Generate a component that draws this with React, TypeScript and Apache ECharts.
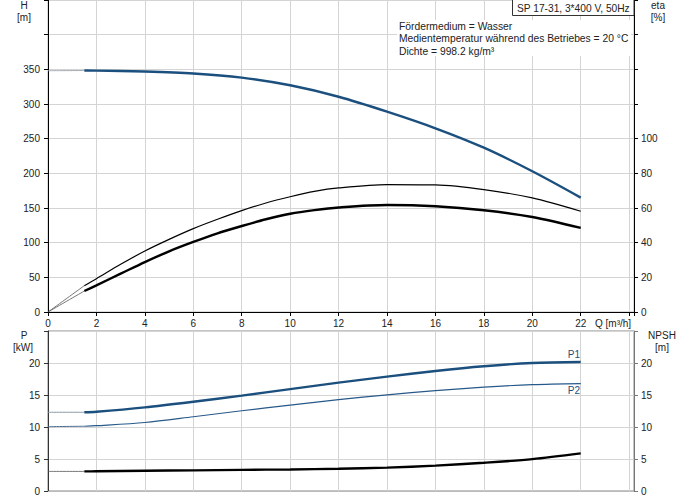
import React, { useEffect, useRef } from "react";
import * as echarts from "echarts";

// Q [m³/h] of the working range (thick part of the curves)
const flow = [1.5, 2, 4, 6, 8, 10, 12, 14, 16, 18, 20, 22];
const head = [348.3, 348.2, 346.8, 344, 338, 327, 310.5, 289, 265, 237, 203, 165];
const powerP1 = [12.3, 12.38, 13.06, 13.94, 14.9, 15.92, 16.93, 17.87, 18.76, 19.5, 20.0, 20.15];
const powerP2 = [10.12, 10.2, 10.7, 11.6, 12.54, 13.42, 14.28, 15.03, 15.67, 16.22, 16.62, 16.78];
const npsh = [3.06, 3.08, 3.16, 3.23, 3.3, 3.37, 3.48, 3.66, 3.97, 4.41, 4.98, 5.88];

// efficiency curves, read at a finer step on the rising part
const etaFlow = [1.5, 2, 3, 4, 5, 6, 7, 8, 9, 10, 11, 12, 14, 16, 18, 20, 22];
const etaTotal = [12.1, 15.4, 22.1, 28.8, 35, 40.4, 45.4, 49.6, 53.5, 56.7, 58.8, 60.3, 61.7, 61, 58.7, 54.8, 48.5];
const etaPump = [15.2, 19.2, 27.5, 35.2, 41.9, 48.1, 53.5, 58.5, 62.9, 66.5, 69.6, 71.6, 73.5, 73.3, 70.6, 65.8, 58.1];

// thin lead-in from Q = 0 up to the start of the working range
const leadFlow = [0, 1.5];
const headLead = [348, 348.3];
const etaTotalLead = [0, 12.1];
const etaPumpLead = [0, 15.2];
const p1Lead = [12.3, 12.3];
const p2Lead = [10.05, 10.12];
const npshLead = [3.06, 3.06];

const infoLines = [
  "Fördermedium = Wasser",
  "Medientemperatur während des Betriebes = 20 °C",
  "Dichte = 998.2 kg/m³",
];

const BLUE = "#1b4f7e";
const FONT = "Liberation Sans, Arial, sans-serif";

const pairs = (xs: number[], ys: number[]) => xs.map((x, i) => [x, ys[i]]);

const App: React.FC = () => {
  const chartRef = useRef<HTMLDivElement>(null);

  useEffect(() => {
    document.body.style.margin = "0";
    const chart = echarts.init(chartRef.current!, undefined, { renderer: "svg" });

    const labelStyle = { color: "#222", fontSize: 10, fontFamily: FONT };
    const splitLine = { show: true, lineStyle: { color: "#d4d4d4", width: 1 } };
    const txt = (text: string, x: number, y: number, align = "center", fill = "#222", size = 10) => ({
      type: "text",
      x,
      y,
      z: 11,
      style: { text, fill, font: `${size}px ${FONT}`, textAlign: align, verticalAlign: "middle" },
    });

    const line = (
      name: string,
      xAxisIndex: number,
      yAxisIndex: number,
      data: number[][],
      color: string,
      width: number
    ) => ({
      name,
      type: "line",
      xAxisIndex,
      yAxisIndex,
      data,
      smooth: 0.3,
      showSymbol: false,
      symbol: "none",
      lineStyle: { color, width },
      z: width > 2 ? 4 : 3,
    });

    const option: any = {
      animation: false,
      grid: [
        { left: 48, right: 57, top: 0, height: 312, show: true, borderColor: "#bbb", borderWidth: 1 },
        { left: 48, right: 57, top: 331, height: 160, show: true, borderColor: "#888", borderWidth: 1 },
      ],
      xAxis: [
        {
          type: "value",
          gridIndex: 0,
          min: 0,
          max: 24.2,
          interval: 2,
          axisLine: { show: true, lineStyle: { color: "#000", width: 1 } },
          axisTick: { show: true, length: 4, lineStyle: { color: "#000" } },
          axisLabel: {
            ...labelStyle,
            margin: 6,
            formatter: (v: number) => (v <= 22 ? String(v) : ""),
          },
          splitLine,
        },
        {
          type: "value",
          gridIndex: 1,
          min: 0,
          max: 24.2,
          interval: 2,
          axisLine: { show: true, lineStyle: { color: "#bbb", width: 1 } },
          axisTick: { show: false },
          axisLabel: { show: false },
          splitLine,
        },
      ],
      yAxis: [
        {
          type: "value",
          gridIndex: 0,
          position: "left",
          min: 0,
          max: 450,
          interval: 50,
          axisLine: { show: true, lineStyle: { color: "#000", width: 1 } },
          axisTick: { show: true, length: 4, lineStyle: { color: "#000" } },
          axisLabel: { ...labelStyle, margin: 8, formatter: (v: number) => (v <= 350 ? String(v) : "") },
          splitLine,
        },
        {
          type: "value",
          gridIndex: 0,
          position: "right",
          min: 0,
          max: 180,
          interval: 20,
          axisLine: { show: true, lineStyle: { color: "#000", width: 1 } },
          axisTick: { show: true, length: 4, lineStyle: { color: "#000" } },
          axisLabel: { ...labelStyle, margin: 7, formatter: (v: number) => (v <= 100 ? String(v) : "") },
          splitLine: { show: false },
        },
        {
          type: "value",
          gridIndex: 1,
          position: "left",
          min: 0,
          max: 25,
          interval: 5,
          axisLine: { show: true, lineStyle: { color: "#333", width: 1 } },
          axisTick: { show: true, length: 4, lineStyle: { color: "#333" } },
          axisLabel: { ...labelStyle, margin: 8, formatter: (v: number) => (v <= 20 ? String(v) : "") },
          splitLine,
        },
        {
          type: "value",
          gridIndex: 1,
          position: "right",
          min: 0,
          max: 25,
          interval: 5,
          axisLine: { show: true, lineStyle: { color: "#777", width: 1 } },
          axisTick: { show: true, length: 4, lineStyle: { color: "#777" } },
          axisLabel: { ...labelStyle, margin: 7, formatter: (v: number) => (v <= 20 ? String(v) : "") },
          splitLine: { show: false },
        },
      ],
      series: [
        line("H lead", 0, 0, pairs(leadFlow, headLead), "#a3abb3", 1),
        line("H", 0, 0, pairs(flow, head), BLUE, 2.4),
        line("eta lead", 0, 1, pairs(leadFlow, etaTotalLead), "#555", 0.8),
        line("eta", 0, 1, pairs(etaFlow, etaTotal), "#000", 2.4),
        line("eta pump lead", 0, 1, pairs(leadFlow, etaPumpLead), "#555", 0.8),
        line("eta pump", 0, 1, pairs(etaFlow, etaPump), "#000", 1.2),
        line("P1 lead", 1, 2, pairs(leadFlow, p1Lead), "#8c9aa8", 1),
        line("P1", 1, 2, pairs(flow, powerP1), BLUE, 2.4),
        line("P2 lead", 1, 2, pairs(leadFlow, p2Lead), "#4a6f93", 1),
        line("P2", 1, 2, pairs(flow, powerP2), "#27598a", 1.2),
        line("NPSH lead", 1, 3, pairs(leadFlow, npshLead), "#555", 0.8),
        line("NPSH", 1, 3, pairs(flow, npsh), "#000", 2.4),
      ],
      graphic: [
        txt("H", 24, 5),
        txt("[m]", 24, 17),
        txt("eta", 658, 5),
        txt("[%]", 658, 17),
        txt("P", 24, 335),
        txt("[kW]", 23, 347),
        txt("NPSH", 662, 335),
        txt("[m]", 662, 347),
        txt("Q [m³/h]", 595, 323, "left"),
        txt("P1", 580, 354, "right", BLUE),
        txt("P2", 580, 390, "right", BLUE),
        {
          type: "rect",
          shape: { x: 512.5, y: -0.5, width: 121.5, height: 16 },
          style: { fill: "#fff", stroke: "#333", lineWidth: 1 },
          z: 10,
        },
        txt("SP 17-31, 3*400 V, 50Hz", 517, 8, "left", "#222", 10.2),
        {
          type: "rect",
          shape: { x: 397, y: 20, width: 234, height: 36 },
          style: { fill: "#fff" },
          z: 10,
        },
        ...infoLines.map((s, i) => txt(s, 399, 26 + i * 12.5, "left", "#222", 10.3)),
      ],
    };

    chart.setOption(option);

    return () => {
      chart.dispose();
    };
  }, []);

  return <div ref={chartRef} style={{ width: "691px", height: "500px" }}></div>;
};

export default App;
